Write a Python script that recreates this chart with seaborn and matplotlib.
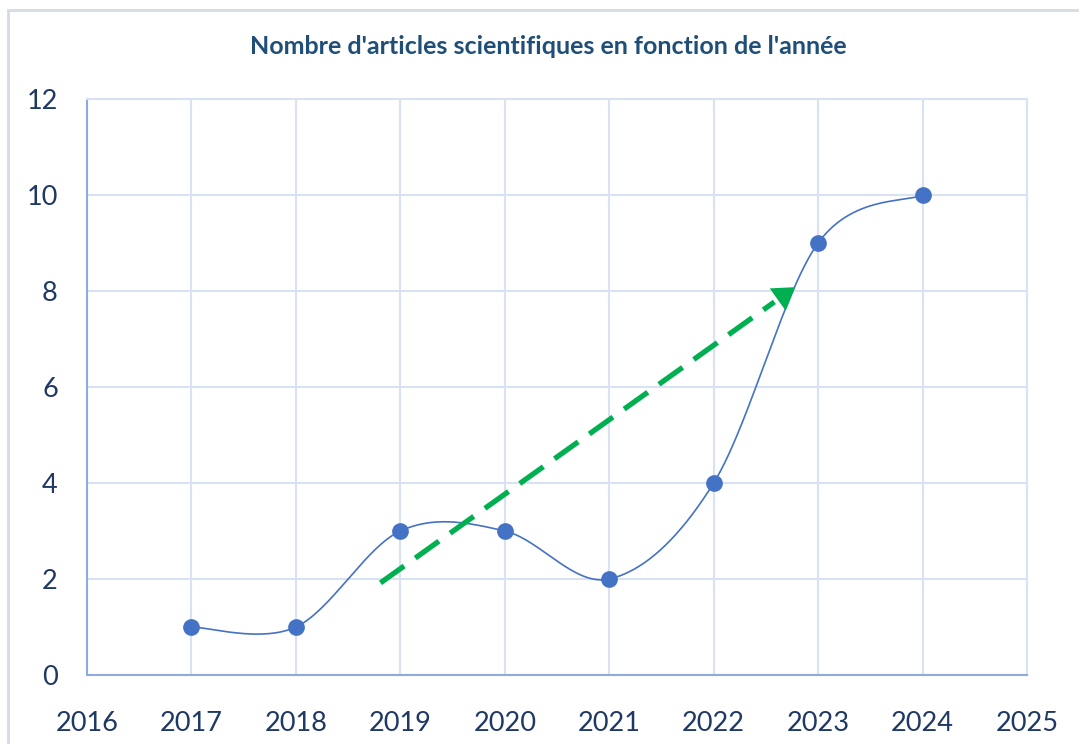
import numpy as np
import pandas as pd
import matplotlib
matplotlib.use('Agg')
import matplotlib.pyplot as plt
import matplotlib.patches as patches
import seaborn as sns

years = [2017, 2018, 2019, 2020, 2021, 2022, 2023, 2024]
articles = [1, 1, 3, 3, 2, 4, 9, 10]
title = "Nombre d'articles scientifiques en fonction de l'année"

# green trend arrow drawn by hand in the original
trend_start = (2018.81, 1.92)
trend_end = (2022.78, 8.08)

x_ticks = list(range(2016, 2026))
y_ticks = [0, 2, 4, 6, 8, 10, 12]

blue = '#4472C4'
dark = '#1F3864'
title_c = '#1F4E79'
green = '#00B050'
grid_c = '#D9E2F3'
axis_c = '#8FAADC'


def smooth(xs, ys, n=60):
    # bezier smoothing like the office "smoothed line" option
    pts = np.column_stack([xs, ys]).astype(float)
    ext = np.vstack([pts[0], pts, pts[-1]])
    out = []
    for i in range(len(pts) - 1):
        p0, p1, p2, p3 = ext[i], ext[i + 1], ext[i + 2], ext[i + 3]
        c1 = p1 + (p2 - p0) / 6
        c2 = p2 - (p3 - p1) / 6
        t = np.linspace(0, 1, n)[:, None]
        seg = (1 - t) ** 3 * p1 + 3 * (1 - t) ** 2 * t * c1 + 3 * (1 - t) * t ** 2 * c2 + t ** 3 * p2
        out.append(seg if i == 0 else seg[1:])
    return np.vstack(out)


df = pd.DataFrame({'year': years, 'articles': articles})
curve = smooth(df['year'], df['articles'])
curve_df = pd.DataFrame({'x': curve[:, 0], 'y': curve[:, 1]})

sns.set_theme(style='white')
plt.rcParams['font.family'] = ['Lato', 'DejaVu Sans']

fig = plt.figure(figsize=(10.79, 7.44), dpi=100)
fig.set_facecolor('white')
ax = fig.add_axes([87 / 1079, 1 - 675 / 744, 940 / 1079, 576 / 744])

sns.lineplot(data=curve_df, x='x', y='y', sort=False, estimator=None,
             color=blue, linewidth=1.2, ax=ax, zorder=3)
sns.scatterplot(data=df, x='year', y='articles', color=blue, s=145,
                edgecolor=blue, linewidth=0, ax=ax, zorder=4)

# dashed trend arrow
ux = trend_end[0] - trend_start[0]
uy = trend_end[1] - trend_start[1]
ax.plot([trend_start[0], trend_start[0] + ux * 0.95], [trend_start[1], trend_start[1] + uy * 0.95],
        color=green, linewidth=3.8, dashes=(5.5, 2.6), solid_capstyle='butt', zorder=5)
ax.annotate('', xy=trend_end, xytext=(trend_start[0] + ux * 0.9, trend_start[1] + uy * 0.9),
            arrowprops=dict(arrowstyle='-|>,head_length=0.7,head_width=0.45', color=green,
                            lw=0, mutation_scale=22, shrinkA=0, shrinkB=0), zorder=5)

ax.set_xlim(2016, 2025)
ax.set_ylim(0, 12)
ax.set_xticks(x_ticks)
ax.set_yticks(y_ticks)
ax.set_xticklabels([str(v) for v in x_ticks])
ax.grid(True, color=grid_c, linewidth=1.5)
ax.set_axisbelow(True)
ax.set_xlabel('')
ax.set_ylabel('')
ax.tick_params(axis='both', length=0, labelsize=19.5, labelcolor=dark)
ax.tick_params(axis='x', pad=26)
ax.tick_params(axis='y', pad=21)
for s in ['top', 'right']:
    ax.spines[s].set_color(grid_c)
    ax.spines[s].set_linewidth(1.5)
for s in ['left', 'bottom']:
    ax.spines[s].set_color(axis_c)
    ax.spines[s].set_linewidth(1.5)

fig.text(548 / 1079, 1 - 47 / 744, title, ha='center', va='center',
         fontsize=18, fontweight='bold', color=title_c)

# outer chart frame
fig.patches.append(patches.Rectangle((8 / 1079, -0.05), 1.1, 1 - 10 / 744 + 0.05,
                                     transform=fig.transFigure, fill=False,
                                     edgecolor='#D6DCE5', linewidth=2))

fig.savefig('out.png', dpi=100)
